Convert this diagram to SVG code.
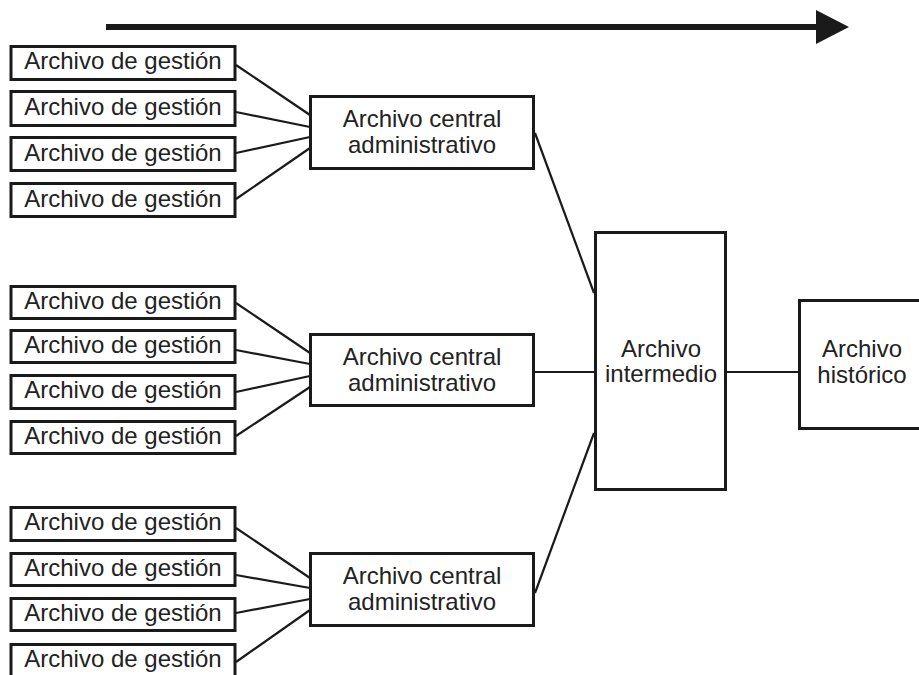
<svg xmlns="http://www.w3.org/2000/svg" width="919" height="675" viewBox="0 0 919 675">
  <style>
    .box { fill: #ffffff; stroke: #1a1a1a; stroke-width: 3; }
    .lbl { font-family: "Liberation Sans", Arial, sans-serif; font-size: 24px; fill: #222222; text-anchor: middle; }
    .conn { stroke: #1a1a1a; stroke-width: 2.2; fill: none; }
  </style>
  <rect width="919" height="675" fill="#ffffff"/>

  <!-- time arrow -->
  <g id="time-arrow">
    <line x1="106" y1="27" x2="822" y2="27" stroke="#1a1a1a" stroke-width="6"/>
    <polygon points="816,10 849,27 816,44" fill="#1a1a1a"/>
  </g>

  <!-- connectors -->
  <g id="connectors" class="conn">
    <line x1="236" y1="65" x2="310" y2="115"/>
    <line x1="236" y1="112" x2="310" y2="127"/>
    <line x1="236" y1="153" x2="310" y2="137"/>
    <line x1="236" y1="199" x2="310" y2="148"/>

    <line x1="236" y1="303" x2="310" y2="353"/>
    <line x1="236" y1="350" x2="310" y2="364"/>
    <line x1="236" y1="392" x2="310" y2="376"/>
    <line x1="236" y1="436" x2="310" y2="387"/>

    <line x1="236" y1="528" x2="310" y2="578"/>
    <line x1="236" y1="575" x2="310" y2="588"/>
    <line x1="236" y1="613" x2="310" y2="599"/>
    <line x1="236" y1="662" x2="310" y2="610"/>

    <line x1="535" y1="133" x2="594" y2="293"/>
    <line x1="534" y1="372" x2="594" y2="372"/>
    <line x1="535" y1="593" x2="594" y2="433"/>

    <line x1="727" y1="372" x2="798" y2="372"/>
  </g>

  <!-- first group of management archives -->
  <g id="gestion-1">
    <rect class="box" x="11" y="46.5" width="224" height="33"/>
    <text class="lbl" x="123" y="69">Archivo de gestión</text>
  </g>
  <g id="gestion-2">
    <rect class="box" x="11" y="91.5" width="224" height="34"/>
    <text class="lbl" x="123" y="115">Archivo de gestión</text>
  </g>
  <g id="gestion-3">
    <rect class="box" x="11" y="137.5" width="224" height="33"/>
    <text class="lbl" x="123" y="161">Archivo de gestión</text>
  </g>
  <g id="gestion-4">
    <rect class="box" x="11" y="183.5" width="224" height="33"/>
    <text class="lbl" x="123" y="207">Archivo de gestión</text>
  </g>

  <!-- second group -->
  <g id="gestion-5">
    <rect class="box" x="11" y="286.5" width="224" height="32"/>
    <text class="lbl" x="123" y="309">Archivo de gestión</text>
  </g>
  <g id="gestion-6">
    <rect class="box" x="11" y="330.5" width="224" height="32"/>
    <text class="lbl" x="123" y="353">Archivo de gestión</text>
  </g>
  <g id="gestion-7">
    <rect class="box" x="11" y="375.5" width="224" height="33"/>
    <text class="lbl" x="123" y="398">Archivo de gestión</text>
  </g>
  <g id="gestion-8">
    <rect class="box" x="11" y="421.5" width="224" height="32"/>
    <text class="lbl" x="123" y="444">Archivo de gestión</text>
  </g>

  <!-- third group -->
  <g id="gestion-9">
    <rect class="box" x="11" y="507.5" width="224" height="33"/>
    <text class="lbl" x="123" y="530">Archivo de gestión</text>
  </g>
  <g id="gestion-10">
    <rect class="box" x="11" y="553.5" width="224" height="32"/>
    <text class="lbl" x="123" y="576">Archivo de gestión</text>
  </g>
  <g id="gestion-11">
    <rect class="box" x="11" y="598.5" width="224" height="32"/>
    <text class="lbl" x="123" y="621">Archivo de gestión</text>
  </g>
  <g id="gestion-12">
    <rect class="box" x="11" y="644.5" width="224" height="40"/>
    <text class="lbl" x="123" y="667">Archivo de gestión</text>
  </g>

  <!-- central administrative archives -->
  <g id="central-1">
    <rect class="box" x="310.5" y="96.5" width="223" height="72"/>
    <text class="lbl" x="422" y="127">Archivo central</text>
    <text class="lbl" x="422" y="153">administrativo</text>
  </g>
  <g id="central-2">
    <rect class="box" x="310.5" y="334.5" width="223" height="71"/>
    <text class="lbl" x="422" y="365">Archivo central</text>
    <text class="lbl" x="422" y="391">administrativo</text>
  </g>
  <g id="central-3">
    <rect class="box" x="310.5" y="553.5" width="223" height="72"/>
    <text class="lbl" x="422" y="584">Archivo central</text>
    <text class="lbl" x="422" y="610">administrativo</text>
  </g>

  <!-- intermediate archive -->
  <g id="intermedio">
    <rect class="box" x="595.5" y="232.5" width="130" height="257"/>
    <text class="lbl" x="661" y="357">Archivo</text>
    <text class="lbl" x="661" y="382">intermedio</text>
  </g>

  <!-- historical archive -->
  <g id="historico">
    <rect class="box" x="799.5" y="300.5" width="130" height="128"/>
    <text class="lbl" x="862" y="357">Archivo</text>
    <text class="lbl" x="862" y="383">histórico</text>
  </g>
</svg>
